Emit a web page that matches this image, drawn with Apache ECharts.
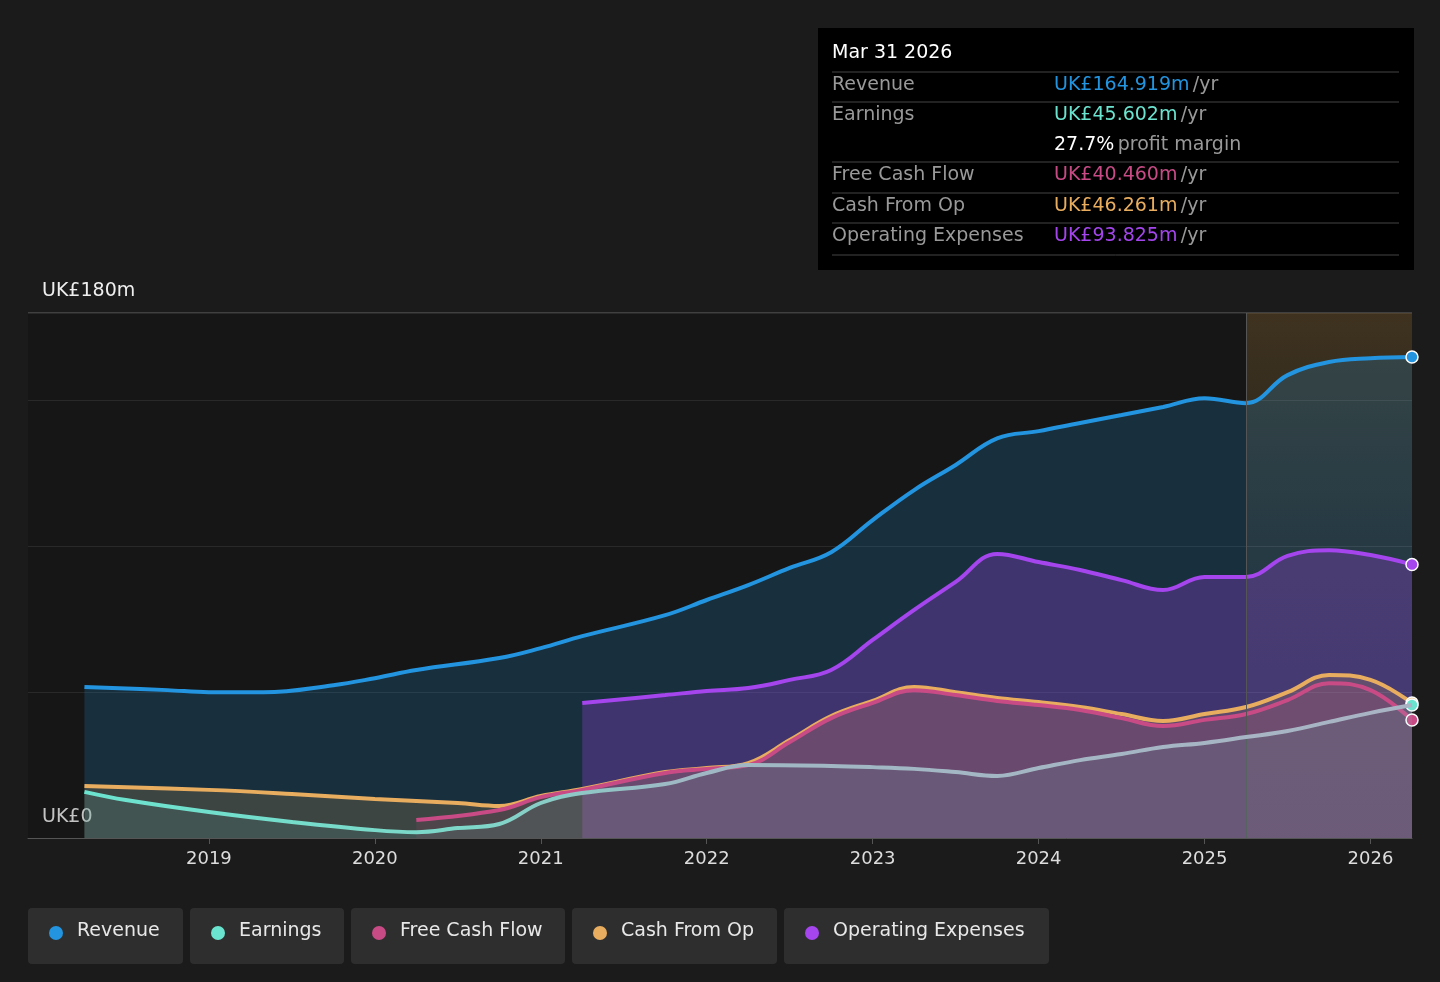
<!DOCTYPE html>
<html><head><meta charset="utf-8">
<script src="https://cdn.jsdelivr.net/npm/echarts@6/dist/echarts.min.js"></script>
<style>html,body{margin:0;background:#1b1b1b}#c{width:1440px;height:982px}</style>
</head><body><div id="c"></div>
<script>
const revenue=[[2018.25,51.8],[2018.75,50.7],[2019.0,50],[2019.33,50],[2019.75,52.4],[2020.0,54.8],[2020.25,57.6],[2020.75,61.7],[2021.0,65.1],[2021.25,69.2],[2021.75,76.4],[2022.0,81.6],[2022.25,86.7],[2022.5,92.6],[2022.75,98],[2023.0,109],[2023.25,119.3],[2023.5,127.9],[2023.75,137],[2024.0,139.5],[2024.25,142.3],[2024.5,145],[2024.75,147.8],[2025.0,150.8],[2025.25,149.1],[2025.5,158.7],[2025.75,163.2],[2026.0,164.5],[2026.25,164.9]];
const earnings=[[2018.25,15.8],[2018.5,13],[2019.0,8.9],[2019.5,5.5],[2020.0,2.7],[2020.25,2],[2020.5,3.4],[2020.75,4.8],[2021.0,12],[2021.25,15.4],[2021.75,18.5],[2022.0,22.3],[2022.25,25],[2022.75,24.7],[2023.0,24.3],[2023.25,23.7],[2023.5,22.6],[2023.75,21.3],[2024.0,24],[2024.25,26.7],[2024.5,28.8],[2024.75,31.2],[2025.0,32.6],[2025.25,34.6],[2025.5,36.7],[2025.75,39.8],[2026.0,42.9],[2026.25,45.6]];
const fcf=[[2020.25,6.2],[2020.75,9.6],[2021.0,14],[2021.25,16.5],[2021.75,22.3],[2022.0,23.7],[2022.25,25],[2022.5,32.9],[2022.75,41.1],[2023.0,46.3],[2023.25,50.7],[2023.5,49],[2023.75,47],[2024.0,45.6],[2024.25,43.9],[2024.5,41.1],[2024.75,38.4],[2025.0,40.5],[2025.25,42.5],[2025.5,47.3],[2025.75,53.1],[2026.0,50.7],[2026.25,40.46]];
const cfo=[[2018.25,17.8],[2019.0,16.5],[2019.5,15.1],[2020.0,13.4],[2020.5,12],[2020.75,11],[2021.0,14.4],[2021.25,16.8],[2021.75,22.6],[2022.0,24],[2022.25,25.7],[2022.5,33.6],[2022.75,41.8],[2023.0,47],[2023.25,51.8],[2023.5,50],[2023.75,48],[2024.0,46.6],[2024.25,44.9],[2024.5,42.5],[2024.75,40.1],[2025.0,42.5],[2025.25,44.9],[2025.5,50],[2025.75,55.9],[2026.0,54.2],[2026.25,46.26]];
const opex=[[2021.25,46.3],[2021.75,49],[2022.0,50.4],[2022.25,51.4],[2022.5,54.2],[2022.75,57.6],[2023.0,67.9],[2023.25,78.2],[2023.5,87.8],[2023.75,97.4],[2024.0,94.6],[2024.25,91.9],[2024.5,88.4],[2024.75,85],[2025.0,89.5],[2025.25,89.5],[2025.5,96.7],[2025.75,98.7],[2026.0,97],[2026.25,93.8]];
const names=['Revenue','Earnings','Free Cash Flow','Cash From Op','Operating Expenses'];
const colors=['#2394df','#6be4cf','#c84b86','#e9ad5f','#a445ee'];
const forecastStart=2025.25;
const ch=echarts.init(document.getElementById('c'));
function ser(i,data,fillOp,z,lc){
  const last=data[data.length-1];
  return {name:names[i],type:'line',data:data,smooth:0.4,showSymbol:false,z:z,
    lineStyle:{color:lc||colors[i],width:4},
    areaStyle:{color:colors[i],opacity:fillOp},
    markPoint:{symbol:'circle',symbolSize:12,itemStyle:{color:colors[i],borderColor:'#fff',borderWidth:1.5},label:{show:false},data:[{coord:last}]}};
}
const series=[
  ser(0,revenue,0.2,1),
  ser(4,opex,0.28,2),
  ser(3,cfo,0.18,3),
  ser(2,fcf,0.12,4),
  ser(1,earnings,0.1,5,{type:'linear',x:0,y:0,x2:1,y2:0,colorStops:[{offset:0,color:'#6be4cf'},{offset:0.3,color:'#7fd6c8'},{offset:0.45,color:'#9fb8c4'},{offset:1,color:'#a9b4c4'}]})
];
series[0].markArea={silent:true,data:[[{xAxis:2017.91,itemStyle:{color:'rgba(0,0,0,0.18)'}},{xAxis:forecastStart}],
 [{xAxis:forecastStart,itemStyle:{color:{type:'linear',x:0,y:0,x2:0,y2:1,colorStops:[{offset:0,color:'rgba(130,95,40,0.35)'},{offset:0.5,color:'rgba(110,85,40,0.12)'},{offset:1,color:'rgba(100,80,40,0.03)'}]}}},{xAxis:2026.25}]]};
series[0].markLine={silent:true,symbol:'none',label:{show:false},lineStyle:{color:'#555',width:1,type:'solid'},data:[{xAxis:forecastStart}]};
const legendItems=[];let lx=28;const widths=[155,154,214,205,265];
names.forEach((n,i)=>{legendItems.push({type:'group',left:lx,top:908,children:[
 {type:'rect',shape:{width:widths[i],height:56,r:4},style:{fill:'#2e2e2e'}},
 {type:'circle',shape:{cx:28,cy:25,r:7},style:{fill:colors[i]}},
 {type:'text',left:49,top:14,style:{text:n,fill:'#e8e8e8',font:'19px "DejaVu Sans"'}}]});lx+=widths[i]+7;});
const tt=[['Revenue','UK£164.919m',colors[0]],['Earnings','UK£45.602m',colors[1]],['','27.7%',null],['Free Cash Flow','UK£40.460m',colors[2]],['Cash From Op','UK£46.261m',colors[3]],['Operating Expenses','UK£93.825m',colors[4]]];
const F='19px "DejaVu Sans"';
const ttEls=[{type:'rect',shape:{x:818,y:28,width:596,height:242},style:{fill:'#000'}},
 {type:'text',x:832,y:44,style:{text:'Mar 31 2026',fill:'#fff',font:F}}];
const rowY=[86,116,146,176,207,237];
rowY.forEach((y,i)=>{
 if(i!==2) ttEls.push({type:'line',shape:{x1:832,y1:y-14,x2:1399,y2:y-14},style:{stroke:'#444',lineWidth:1}});
 const r=tt[i];
 ttEls.push({type:'text',x:832,y:y-10,style:{text:r[0],fill:'#999',font:F}});
 if(r[2]) ttEls.push({type:'text',x:1054,y:y-10,style:{rich:{a:{fill:r[2],font:F},b:{fill:'#999',font:F}},text:'{a|'+r[1]+'} {b|/yr}'}});
 else ttEls.push({type:'text',x:1054,y:y-10,style:{rich:{a:{fill:'#fff',font:F},b:{fill:'#999',font:F}},text:'{a|27.7%} {b|profit margin}'}});
});
ttEls.push({type:'line',shape:{x1:832,y1:255,x2:1399,y2:255},style:{stroke:'#444',lineWidth:1}});
ch.setOption({backgroundColor:'#1b1b1b',animation:false,
 grid:{left:28,right:28,top:313,bottom:144},
 xAxis:{type:'value',min:2017.91,max:2026.25,interval:1,
  axisLine:{show:true,lineStyle:{color:'#555'}},axisTick:{show:true,length:6,lineStyle:{color:'#555'},customValues:[2019,2020,2021,2022,2023,2024,2025,2026]},
  splitLine:{show:false},
  axisLabel:{color:'#ddd',fontSize:18,fontFamily:'DejaVu Sans',margin:12,customValues:[2019,2020,2021,2022,2023,2024,2025,2026],formatter:v=>String(Math.round(v))}},
 yAxis:{type:'value',min:0,max:180,interval:50,
  axisLine:{show:false},axisTick:{show:false},
  splitLine:{lineStyle:{color:'#333',width:1}},
  axisLabel:{show:false}},
 series:series,
 graphic:[...ttEls,...legendItems,
  {type:'text',x:42,y:282,style:{text:'UK£180m',fill:'#eee',font:F}},
  {type:'text',x:42,y:808,style:{text:'UK£0',fill:'#eee',font:F}},
  {type:'line',shape:{x1:28,y1:313,x2:1412,y2:313},style:{stroke:'#666',lineWidth:1}}]
});
</script></body></html>
